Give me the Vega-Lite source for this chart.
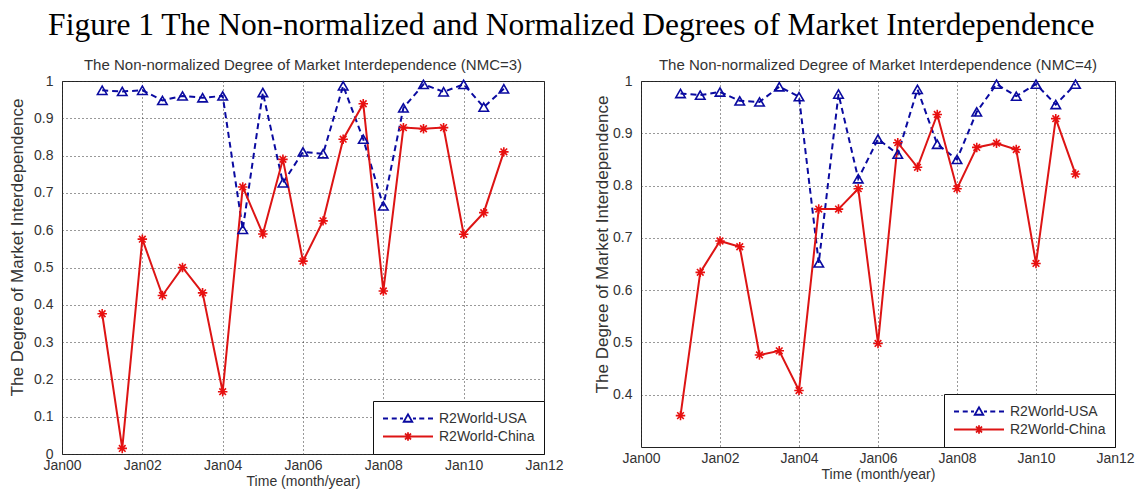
{
  "$schema": "https://vega.github.io/schema/vega-lite/v6.json",
  "background": "white",
  "padding": {"left": 8, "top": 10, "right": 2, "bottom": 2},
  "title": {"text": "Figure 1 The Non-normalized and Normalized Degrees of Market Interdependence", "font": "Liberation Serif", "fontSize": 31.5, "fontWeight": "normal", "color": "#000000", "anchor": "middle", "offset": 16},
  "datasets": {
    "nmc3": [
      {"t": 1, "series": "R2World-USA", "v": 0.975}, {"t": 1.5, "series": "R2World-USA", "v": 0.972}, {"t": 2, "series": "R2World-USA", "v": 0.975}, {"t": 2.5, "series": "R2World-USA", "v": 0.948}, {"t": 3, "series": "R2World-USA", "v": 0.96}, {"t": 3.5, "series": "R2World-USA", "v": 0.955}, {"t": 4, "series": "R2World-USA", "v": 0.96}, {"t": 4.5, "series": "R2World-USA", "v": 0.602}, {"t": 5, "series": "R2World-USA", "v": 0.969}, {"t": 5.5, "series": "R2World-USA", "v": 0.727}, {"t": 6, "series": "R2World-USA", "v": 0.81}, {"t": 6.5, "series": "R2World-USA", "v": 0.805}, {"t": 7, "series": "R2World-USA", "v": 0.987}, {"t": 7.5, "series": "R2World-USA", "v": 0.844}, {"t": 8, "series": "R2World-USA", "v": 0.665}, {"t": 8.5, "series": "R2World-USA", "v": 0.928}, {"t": 9, "series": "R2World-USA", "v": 0.991}, {"t": 9.5, "series": "R2World-USA", "v": 0.971}, {"t": 10, "series": "R2World-USA", "v": 0.991}, {"t": 10.5, "series": "R2World-USA", "v": 0.93}, {"t": 11, "series": "R2World-USA", "v": 0.979},
      {"t": 1, "series": "R2World-China", "v": 0.376}, {"t": 1.5, "series": "R2World-China", "v": 0.015}, {"t": 2, "series": "R2World-China", "v": 0.576}, {"t": 2.5, "series": "R2World-China", "v": 0.425}, {"t": 3, "series": "R2World-China", "v": 0.5}, {"t": 3.5, "series": "R2World-China", "v": 0.432}, {"t": 4, "series": "R2World-China", "v": 0.167}, {"t": 4.5, "series": "R2World-China", "v": 0.716}, {"t": 5, "series": "R2World-China", "v": 0.59}, {"t": 5.5, "series": "R2World-China", "v": 0.79}, {"t": 6, "series": "R2World-China", "v": 0.517}, {"t": 6.5, "series": "R2World-China", "v": 0.625}, {"t": 7, "series": "R2World-China", "v": 0.844}, {"t": 7.5, "series": "R2World-China", "v": 0.939}, {"t": 8, "series": "R2World-China", "v": 0.437}, {"t": 8.5, "series": "R2World-China", "v": 0.875}, {"t": 9, "series": "R2World-China", "v": 0.872}, {"t": 9.5, "series": "R2World-China", "v": 0.875}, {"t": 10, "series": "R2World-China", "v": 0.589}, {"t": 10.5, "series": "R2World-China", "v": 0.647}, {"t": 11, "series": "R2World-China", "v": 0.81}
    ],
    "nmc4": [
      {"t": 1, "series": "R2World-USA", "v": 0.976}, {"t": 1.5, "series": "R2World-USA", "v": 0.973}, {"t": 2, "series": "R2World-USA", "v": 0.979}, {"t": 2.5, "series": "R2World-USA", "v": 0.962}, {"t": 3, "series": "R2World-USA", "v": 0.96}, {"t": 3.5, "series": "R2World-USA", "v": 0.989}, {"t": 4, "series": "R2World-USA", "v": 0.97}, {"t": 4.5, "series": "R2World-USA", "v": 0.652}, {"t": 5, "series": "R2World-USA", "v": 0.975}, {"t": 5.5, "series": "R2World-USA", "v": 0.813}, {"t": 6, "series": "R2World-USA", "v": 0.889}, {"t": 6.5, "series": "R2World-USA", "v": 0.86}, {"t": 7, "series": "R2World-USA", "v": 0.984}, {"t": 7.5, "series": "R2World-USA", "v": 0.879}, {"t": 8, "series": "R2World-USA", "v": 0.85}, {"t": 8.5, "series": "R2World-USA", "v": 0.941}, {"t": 9, "series": "R2World-USA", "v": 0.994}, {"t": 9.5, "series": "R2World-USA", "v": 0.971}, {"t": 10, "series": "R2World-USA", "v": 0.994}, {"t": 10.5, "series": "R2World-USA", "v": 0.955}, {"t": 11, "series": "R2World-USA", "v": 0.994},
      {"t": 1, "series": "R2World-China", "v": 0.36}, {"t": 1.5, "series": "R2World-China", "v": 0.634}, {"t": 2, "series": "R2World-China", "v": 0.694}, {"t": 2.5, "series": "R2World-China", "v": 0.683}, {"t": 3, "series": "R2World-China", "v": 0.476}, {"t": 3.5, "series": "R2World-China", "v": 0.484}, {"t": 4, "series": "R2World-China", "v": 0.408}, {"t": 4.5, "series": "R2World-China", "v": 0.755}, {"t": 5, "series": "R2World-China", "v": 0.755}, {"t": 5.5, "series": "R2World-China", "v": 0.794}, {"t": 6, "series": "R2World-China", "v": 0.498}, {"t": 6.5, "series": "R2World-China", "v": 0.882}, {"t": 7, "series": "R2World-China", "v": 0.835}, {"t": 7.5, "series": "R2World-China", "v": 0.936}, {"t": 8, "series": "R2World-China", "v": 0.794}, {"t": 8.5, "series": "R2World-China", "v": 0.873}, {"t": 9, "series": "R2World-China", "v": 0.881}, {"t": 9.5, "series": "R2World-China", "v": 0.869}, {"t": 10, "series": "R2World-China", "v": 0.651}, {"t": 10.5, "series": "R2World-China", "v": 0.928}, {"t": 11, "series": "R2World-China", "v": 0.822}
    ]
  },
  "config": {
    "font": "Liberation Sans",
    "view": {"stroke": "#222222", "strokeWidth": 1},
    "axis": {"domain": false, "ticks": false, "grid": true, "gridColor": "#333333", "gridDash": [1, 3], "gridWidth": 1, "labelFont": "Liberation Sans", "labelFontSize": 14, "labelColor": "#333333", "titleFont": "Liberation Sans", "titleFontSize": 14, "titleFontWeight": "normal", "titleColor": "#333333"},
    "title": {"font": "Liberation Sans", "fontSize": 15, "fontWeight": "normal", "color": "#333333", "offset": 1},
    "legend": {"title": null, "orient": "bottom-right", "offset": 0, "strokeColor": "#111111", "fillColor": "white", "padding": 9, "symbolSize": 2500, "clipHeight": 17, "rowPadding": 1, "labelFontSize": 14, "labelColor": "#333333", "labelOffset": 5, "symbolStrokeWidth": 1.8}
  },
  "spacing": 29,
  "resolve": {"scale": {"color": "independent"}, "legend": {"color": "independent"}},
  "hconcat": [
    {
      "width": 482,
      "height": 373,
      "title": {"text": "The Non-normalized Degree of Market Interdependence (NMC=3)"},
      "data": {"name": "nmc3"},
      "encoding": {
        "x": {"field": "t", "type": "quantitative", "scale": {"domain": [0, 12], "nice": false, "zero": false}, "axis": {"values": [0, 2, 4, 6, 8, 10, 12], "labelExpr": "'Jan' + (datum.value < 10 ? '0' : '') + datum.value", "title": "Time (month/year)", "labelPadding": 4, "titlePadding": 2, "labelFlush": false}},
        "y": {"field": "v", "type": "quantitative", "scale": {"domain": [0, 1], "nice": false, "zero": false}, "axis": {"values": [0, 0.1, 0.2, 0.3, 0.4, 0.5, 0.6, 0.7, 0.8, 0.9, 1], "format": ".1~f", "title": "The Degree of Market Interdependence", "labelPadding": 9, "titlePadding": 7, "titleFontSize": 17, "titleY": 166}}
      },
      "layer": [
        {"transform": [{"filter": "datum.series === 'R2World-USA'"}], "mark": {"type": "line", "strokeWidth": 2, "strokeDash": [6, 4]},
          "encoding": {"color": {"field": "series", "type": "nominal", "scale": {"domain": ["R2World-USA", "R2World-China"], "range": ["#0a0aa0", "#dd1414"]},
            "legend": {"encode": {"symbols": {"update": {"shape": {"signal": "datum.value === 'R2World-USA' ? 'M-1,0L-0.8,0M-0.65,0L-0.45,0M-0.32,0L-0.2,0M0.2,0L0.32,0M0.45,0L0.65,0M0.8,0L1,0M0,-0.17L0.17,0.13L-0.17,0.13Z' : 'M-1,0L1,0M0,-0.17L0,0.17M-0.12,-0.12L0.12,0.12M-0.12,0.12L0.12,-0.12'"}, "fill": {"value": "transparent"}, "strokeDash": {"value": [1, 0]}, "strokeWidth": {"value": 1.8}, "opacity": {"value": 1}}}}}}}},
        {"transform": [{"filter": "datum.series === 'R2World-China'"}], "mark": {"type": "line", "strokeWidth": 2},
          "encoding": {"color": {"field": "series", "type": "nominal"}}},
        {"transform": [{"filter": "datum.series === 'R2World-USA'"}], "mark": {"type": "point", "filled": false, "shape": "triangle-up", "color": "#0a0aa0", "strokeWidth": 1.6, "size": 90, "opacity": 1}, "encoding": {}},
        {"transform": [{"filter": "datum.series === 'R2World-China'"}], "mark": {"type": "point", "filled": false, "shape": "M-1,0L1,0M0,-1L0,1M-0.7,-0.7L0.7,0.7M-0.7,0.7L0.7,-0.7", "color": "#e81010", "strokeWidth": 1.6, "size": 90, "opacity": 1}, "encoding": {}}
      ]
    },
    {
      "width": 474,
      "height": 366,
      "title": {"text": "The Non-normalized Degree of Market Interdependence (NMC=4)"},
      "data": {"name": "nmc4"},
      "encoding": {
        "x": {"field": "t", "type": "quantitative", "scale": {"domain": [0, 12], "nice": false, "zero": false}, "axis": {"values": [0, 2, 4, 6, 8, 10, 12], "labelExpr": "'Jan' + (datum.value < 10 ? '0' : '') + datum.value", "title": "Time (month/year)", "labelPadding": 4, "titlePadding": 2, "labelFlush": false}},
        "y": {"field": "v", "type": "quantitative", "scale": {"domain": [0.3, 1], "nice": false, "zero": false}, "axis": {"values": [0.4, 0.5, 0.6, 0.7, 0.8, 0.9, 1], "format": ".1~f", "title": "The Degree of Market Interdependence", "labelPadding": 9, "titlePadding": 1, "titleFontSize": 17, "titleY": 163}}
      },
      "layer": [
        {"transform": [{"filter": "datum.series === 'R2World-USA'"}], "mark": {"type": "line", "strokeWidth": 2, "strokeDash": [6, 4]},
          "encoding": {"color": {"field": "series", "type": "nominal", "scale": {"domain": ["R2World-USA", "R2World-China"], "range": ["#0a0aa0", "#dd1414"]},
            "legend": {"encode": {"symbols": {"update": {"shape": {"signal": "datum.value === 'R2World-USA' ? 'M-1,0L-0.8,0M-0.65,0L-0.45,0M-0.32,0L-0.2,0M0.2,0L0.32,0M0.45,0L0.65,0M0.8,0L1,0M0,-0.17L0.17,0.13L-0.17,0.13Z' : 'M-1,0L1,0M0,-0.17L0,0.17M-0.12,-0.12L0.12,0.12M-0.12,0.12L0.12,-0.12'"}, "fill": {"value": "transparent"}, "strokeDash": {"value": [1, 0]}, "strokeWidth": {"value": 1.8}, "opacity": {"value": 1}}}}}}}},
        {"transform": [{"filter": "datum.series === 'R2World-China'"}], "mark": {"type": "line", "strokeWidth": 2},
          "encoding": {"color": {"field": "series", "type": "nominal"}}},
        {"transform": [{"filter": "datum.series === 'R2World-USA'"}], "mark": {"type": "point", "filled": false, "shape": "triangle-up", "color": "#0a0aa0", "strokeWidth": 1.6, "size": 90, "opacity": 1}, "encoding": {}},
        {"transform": [{"filter": "datum.series === 'R2World-China'"}], "mark": {"type": "point", "filled": false, "shape": "M-1,0L1,0M0,-1L0,1M-0.7,-0.7L0.7,0.7M-0.7,0.7L0.7,-0.7", "color": "#e81010", "strokeWidth": 1.6, "size": 90, "opacity": 1}, "encoding": {}}
      ]
    }
  ]
}
